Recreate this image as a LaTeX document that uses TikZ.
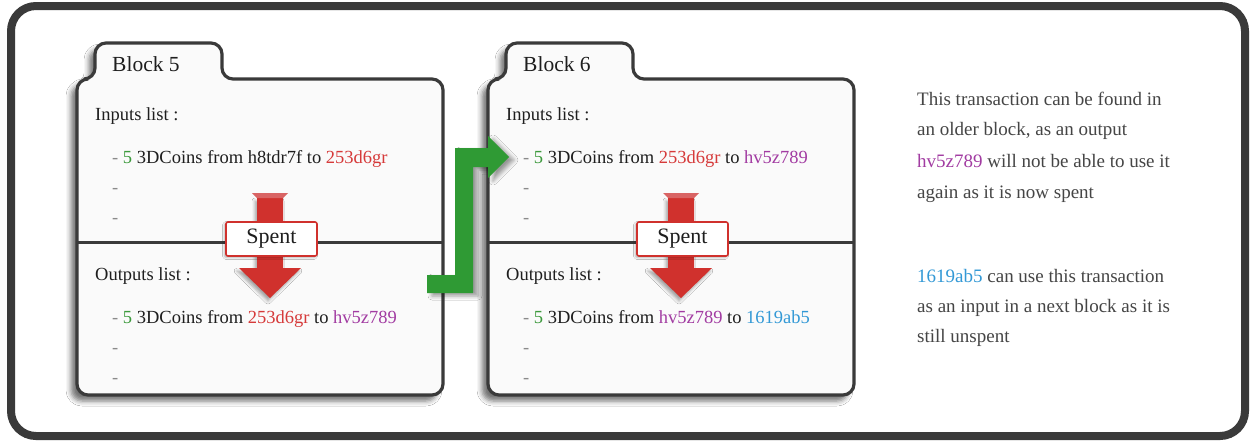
\documentclass[tikz,border=0pt]{standalone}
\usepackage{fontspec}
\setmainfont{Liberation Serif}
\usetikzlibrary{shadows.blur}
\definecolor{frame}{HTML}{3A3A3A}
\definecolor{blockfill}{HTML}{FAFAFA}
\definecolor{ink}{HTML}{1E1E1E}
\definecolor{note}{HTML}{454545}
\definecolor{dashc}{HTML}{8A8A8A}
\definecolor{cgreen}{HTML}{3D9A3D}
\definecolor{cred}{HTML}{D63A3A}
\definecolor{cpurple}{HTML}{A23CA2}
\definecolor{cblue}{HTML}{3399D6}
\definecolor{arrowred}{HTML}{D0312D}
\definecolor{arrowredlight}{HTML}{D96464}
\definecolor{arrowgreen}{HTML}{2F9A34}
\begin{document}
\begin{tikzpicture}[x=1pt,y=-1pt,
  blockshape/.style={draw=frame, line width=3.2pt, fill=blockfill, rounded corners=11pt,
    blur shadow={shadow xshift=-6pt, shadow yshift=-6pt, shadow blur radius=5pt, shadow opacity=55}},
  divider/.style={draw=frame, line width=3pt},
  txt/.style={anchor=base west, inner sep=0pt, font=\fontsize{18.5}{22}\selectfont, text=ink},
  notetxt/.style={anchor=base west, inner sep=0pt, font=\fontsize{19}{22}\selectfont, text=note},
  title/.style={anchor=base west, inner sep=0pt, font=\fontsize{21.5}{24}\selectfont, text=ink},
  spentbox/.style={draw=arrowred, fill=white, line width=1.6pt, rounded corners=2pt,
    minimum width=91pt, minimum height=34pt, inner sep=0pt, font=\fontsize{22}{24}\selectfont, text=ink,
    blur shadow={shadow xshift=-1.5pt, shadow yshift=-1.5pt, shadow blur radius=2pt, shadow opacity=30}},
  spentarrow/.pic={
    \fill[arrowred, blur shadow={shadow xshift=-2pt, shadow yshift=-3pt, shadow blur radius=3pt, shadow opacity=35}]
      (-13,5) -- (13,5) -- (13,75) -- (31,75) -- (0,105) -- (-31,75) -- (-13,75) -- cycle;
    \fill[arrowredlight] (-18,0) -- (18,0) -- (13,5) -- (-13,5) -- cycle;
    \node[spentbox] (box) at (1.5,46) {Spent};
  }
]
\useasboundingbox (0,0) rectangle (1250,440);
\draw[line width=8pt, draw=frame, fill=white, rounded corners=25pt] (11,6) rectangle (1245,436);

% Block 5
\draw[blockshape] (77,395) -- (77,79) -- (95,79) -- (95,43) -- (222,43) -- (222,79) -- (443,79) -- (443,395) -- cycle;
\coordinate (b5l) at (77,242); \coordinate (b5r) at (443,242);
\draw[divider] (b5l) -- (b5r);
\node[title] (b5t) at (112,71) {Block 5};
\node[txt] (b5in) at (95,120) {Inputs list :};
\node[txt] (b5i1) at (112,163) {\textcolor{dashc}{-} \textcolor{cgreen}{5} 3DCoins from h8tdr7f to \textcolor{cred}{253d6gr}};
\node[txt, text=dashc] (b5i2) at (112,193) {-};
\node[txt, text=dashc] (b5i3) at (112,223) {-};
\node[txt] (b5out) at (95,280) {Outputs list :};
\node[txt] (b5o1) at (112,323) {\textcolor{dashc}{-} \textcolor{cgreen}{5} 3DCoins from \textcolor{cred}{253d6gr} to \textcolor{cpurple}{hv5z789}};
\node[txt, text=dashc] (b5o2) at (112,353) {-};
\node[txt, text=dashc] (b5o3) at (112,383) {-};

% Block 6
\draw[blockshape] (488,395) -- (488,79) -- (506,79) -- (506,43) -- (633,43) -- (633,79) -- (854,79) -- (854,395) -- cycle;
\coordinate (b6l) at (488,242); \coordinate (b6r) at (854,242);
\draw[divider] (b6l) -- (b6r);
\node[title] (b6t) at (523,71) {Block 6};
\node[txt] (b6in) at (506,120) {Inputs list :};
\node[txt] (b6i1) at (523,163) {\textcolor{dashc}{-} \textcolor{cgreen}{5} 3DCoins from \textcolor{cred}{253d6gr} to \textcolor{cpurple}{hv5z789}};
\node[txt, text=dashc] (b6i2) at (523,193) {-};
\node[txt, text=dashc] (b6i3) at (523,223) {-};
\node[txt] (b6out) at (506,280) {Outputs list :};
\node[txt] (b6o1) at (523,323) {\textcolor{dashc}{-} \textcolor{cgreen}{5} 3DCoins from \textcolor{cpurple}{hv5z789} to \textcolor{cblue}{1619ab5}};
\node[txt, text=dashc] (b6o2) at (523,353) {-};
\node[txt, text=dashc] (b6o3) at (523,383) {-};

% Spent arrows
\pic (s5) at (270,193) {spentarrow};
\pic (s6) at (681,193) {spentarrow};

% Green arrow from block 5 outputs to block 6 inputs
\fill[arrowgreen, blur shadow={shadow xshift=5pt, shadow yshift=-3pt, shadow blur radius=4pt, shadow opacity=40}]
  (427,275) -- (455,275) -- (455,148) -- (488,148) -- (488,136) -- (509,157) -- (488,178) -- (488,167)
  -- (473,167) -- (473,293) -- (427,293) -- cycle;

% Notes
\node[notetxt] (n1) at (917,105) {This transaction can be found in};
\node[notetxt] (n2) at (917,135) {an older block, as an output};
\node[notetxt] (n3) at (917,167) {\textcolor{cpurple}{hv5z789} will not be able to use it};
\node[notetxt] (n4) at (917,198) {again as it is now spent};
\node[notetxt] (n5) at (917,282) {\textcolor{cblue}{1619ab5} can use this transaction};
\node[notetxt] (n6) at (917,312) {as an input in a next block as it is};
\node[notetxt] (n7) at (917,342) {still unspent};
\end{tikzpicture}
\end{document}
